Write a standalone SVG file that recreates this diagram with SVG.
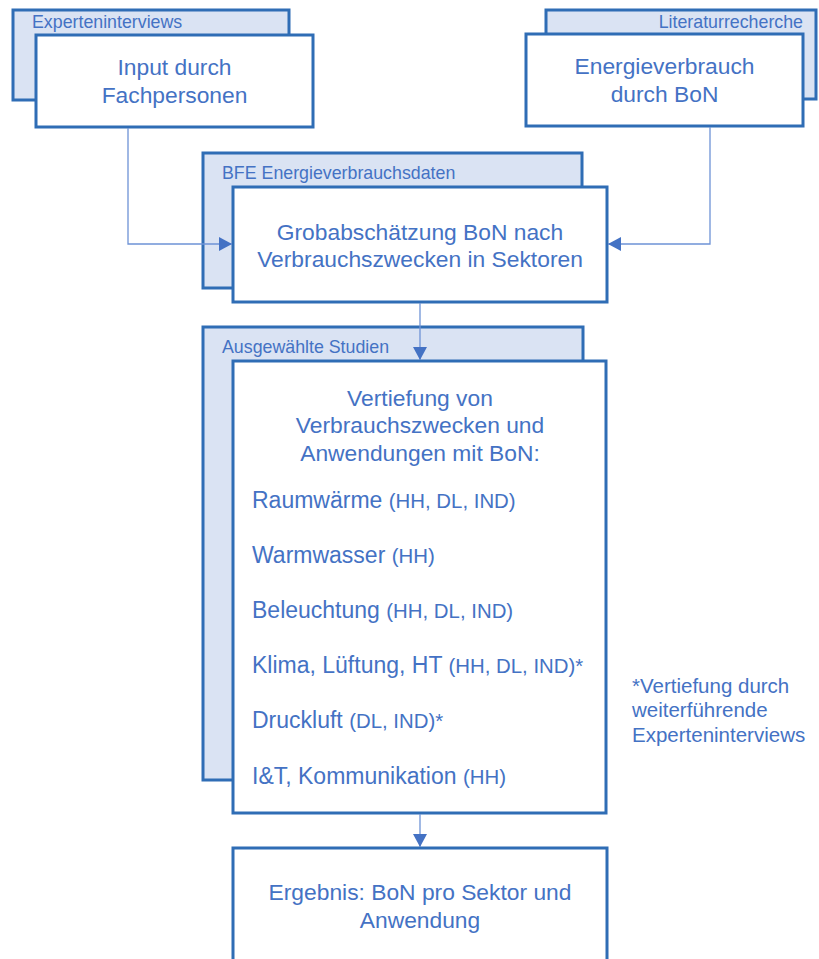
<svg xmlns="http://www.w3.org/2000/svg" width="819" height="959" viewBox="0 0 819 959">
<defs>
<marker id="ah" markerWidth="16" markerHeight="16" refX="13" refY="7" orient="auto" markerUnits="userSpaceOnUse">
<path d="M0,0 L13,7 L0,14 Z" fill="#4472C4"/>
</marker>
</defs>
<style>
.back{fill:#DAE3F3;stroke:#2F6DB5;stroke-width:3}
.front{fill:#FFFFFF;stroke:#2F6DB5;stroke-width:3}
text{font-family:"Liberation Sans",Arial,sans-serif;fill:#4472C4}
.main{font-size:22.8px;text-anchor:middle}
.lab{font-size:17.8px}
.item{font-size:23px}
.sub{font-size:20.4px}
.note{font-size:20.5px}
.conn{fill:none;stroke:#6E93D6;stroke-width:1.3}
</style>
<rect width="819" height="959" fill="#FFFFFF"/>
<g id="experten">
<rect class="back" x="13" y="10" width="276" height="90"/>
<text class="lab" x="32" y="28">Experteninterviews</text>
<rect class="front" x="36" y="35" width="277" height="92"/>
<text class="main" x="174.5" y="75">Input durch</text>
<text class="main" x="174.5" y="103">Fachpersonen</text>
</g>
<g id="literatur">
<rect class="back" x="546" y="10" width="270" height="89"/>
<text class="lab" x="803" y="28" text-anchor="end">Literaturrecherche</text>
<rect class="front" x="526" y="34" width="277" height="92"/>
<text class="main" x="664.5" y="74">Energieverbrauch</text>
<text class="main" x="664.5" y="102">durch BoN</text>
</g>
<g id="grob">
<rect class="back" x="203" y="153" width="379" height="135"/>
<text class="lab" x="222" y="179">BFE Energieverbrauchsdaten</text>
<rect class="front" x="233" y="187" width="374" height="115"/>
<text class="main" x="420" y="240">Grobabschätzung BoN nach</text>
<text class="main" x="420" y="267">Verbrauchszwecken in Sektoren</text>
</g>
<g id="vertiefung">
<rect class="back" x="203" y="327" width="380" height="453"/>
<text class="lab" x="222" y="353">Ausgewählte Studien</text>
<rect class="front" x="233" y="361" width="373" height="452"/>
<text class="main" x="420" y="406">Vertiefung von</text>
<text class="main" x="420" y="433">Verbrauchszwecken und</text>
<text class="main" x="420" y="461">Anwendungen mit BoN:</text>
<text class="item" x="252" y="508">Raumwärme <tspan class="sub">(HH, DL, IND)</tspan></text>
<text class="item" x="252" y="563">Warmwasser <tspan class="sub">(HH)</tspan></text>
<text class="item" x="252" y="618">Beleuchtung <tspan class="sub">(HH, DL, IND)</tspan></text>
<text class="item" x="252" y="673">Klima, Lüftung, HT <tspan class="sub">(HH, DL, IND)*</tspan></text>
<text class="item" x="252" y="728">Druckluft <tspan class="sub">(DL, IND)*</tspan></text>
<text class="item" x="252" y="784">I&amp;T, Kommunikation <tspan class="sub">(HH)</tspan></text>
</g>
<g id="footnote">
<text class="note" x="632" y="693">*Vertiefung durch</text>
<text class="note" x="632" y="717">weiterführende</text>
<text class="note" x="632" y="742">Experteninterviews</text>
</g>
<g id="ergebnis">
<rect class="front" x="233" y="848" width="374" height="130"/>
<text class="main" x="420" y="900">Ergebnis: BoN pro Sektor und</text>
<text class="main" x="420" y="928">Anwendung</text>
</g>
<g id="connectors">
<path class="conn" d="M128,128 V244 H232" marker-end="url(#ah)"/>
<path class="conn" d="M710,127 V244 H608" marker-end="url(#ah)"/>
<path class="conn" d="M420,303 V360" marker-end="url(#ah)"/>
<path class="conn" d="M420,814 V847" marker-end="url(#ah)"/>
</g>
</svg>
